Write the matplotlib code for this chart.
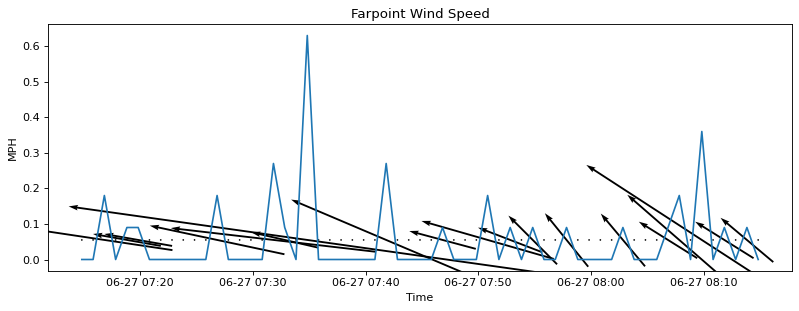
#!/usr/bin/env python

import datetime as dt
import numpy as np
import matplotlib
matplotlib.use('Agg')
from matplotlib import pyplot as plt
import matplotlib.dates as mdates

# one reading per minute, 06-27 07:14:50 .. 08:14:50
START = dt.datetime(2023, 6, 27, 7, 14, 50)

# wind speed [MPH]
speed = [0, 0, 0.18, 0, 0.09, 0.09, 0, 0, 0, 0,
         0, 0, 0.18, 0, 0, 0, 0, 0.27, 0.09, 0,
         0.63, 0, 0, 0, 0, 0, 0, 0.27, 0, 0,
         0, 0, 0.09, 0, 0, 0, 0.18, 0, 0.09, 0,
         0.09, 0, 0, 0.09, 0, 0, 0, 0, 0.09, 0,
         0, 0, 0.09, 0.18, 0, 0.36, 0, 0.09, 0, 0.09,
         0]

# arrow direction [deg], 0 where calm
direction = [0, 0, 171.5, 0, 170, 170, 0, 0, 0, 0,
             0, 0, 168, 0, 0, 0, 0, 173.4, 167, 0,
             172, 0, 0, 0, 0, 0, 0, 157, 0, 0,
             0, 0, 165, 0, 0, 0, 164, 0, 159, 0,
             135, 0, 0, 129, 0, 0, 0, 0, 130, 0,
             0, 0, 148, 139, 0, 147, 0, 148, 0, 140,
             0]

ARROW_Y = 0.055

times = [START + dt.timedelta(minutes=i) for i in range(len(speed))]
tnum = mdates.date2num(times)

spd = np.array(speed)
ang = np.radians(direction)
u = spd * np.cos(ang)
v = spd * np.sin(ang)

fig = plt.figure(figsize=(799 / 80, 311 / 80), dpi=80)
ax = fig.add_axes([48 / 799, 1 - 270.7 / 311, 744 / 799, 246.4 / 311])

ax.plot(tnum, speed, color='#1f77b4', lw=1.5)
ax.quiver(tnum, np.full(len(speed), ARROW_Y), u, v, pivot='middle',
          scale_units='dots', scale=1 / 765., width=0.0025, color='k')

ax.xaxis.set_major_locator(mdates.MinuteLocator(byminute=range(0, 60, 10)))
ax.xaxis.set_major_formatter(mdates.DateFormatter('%m-%d %H:%M'))
ax.set_yticks([0.0, 0.1, 0.2, 0.3, 0.4, 0.5, 0.6])

ax.set_title('Farpoint Wind Speed')
ax.set_xlabel('Time')
ax.set_ylabel('MPH')

plt.savefig('out.png', dpi=80)
